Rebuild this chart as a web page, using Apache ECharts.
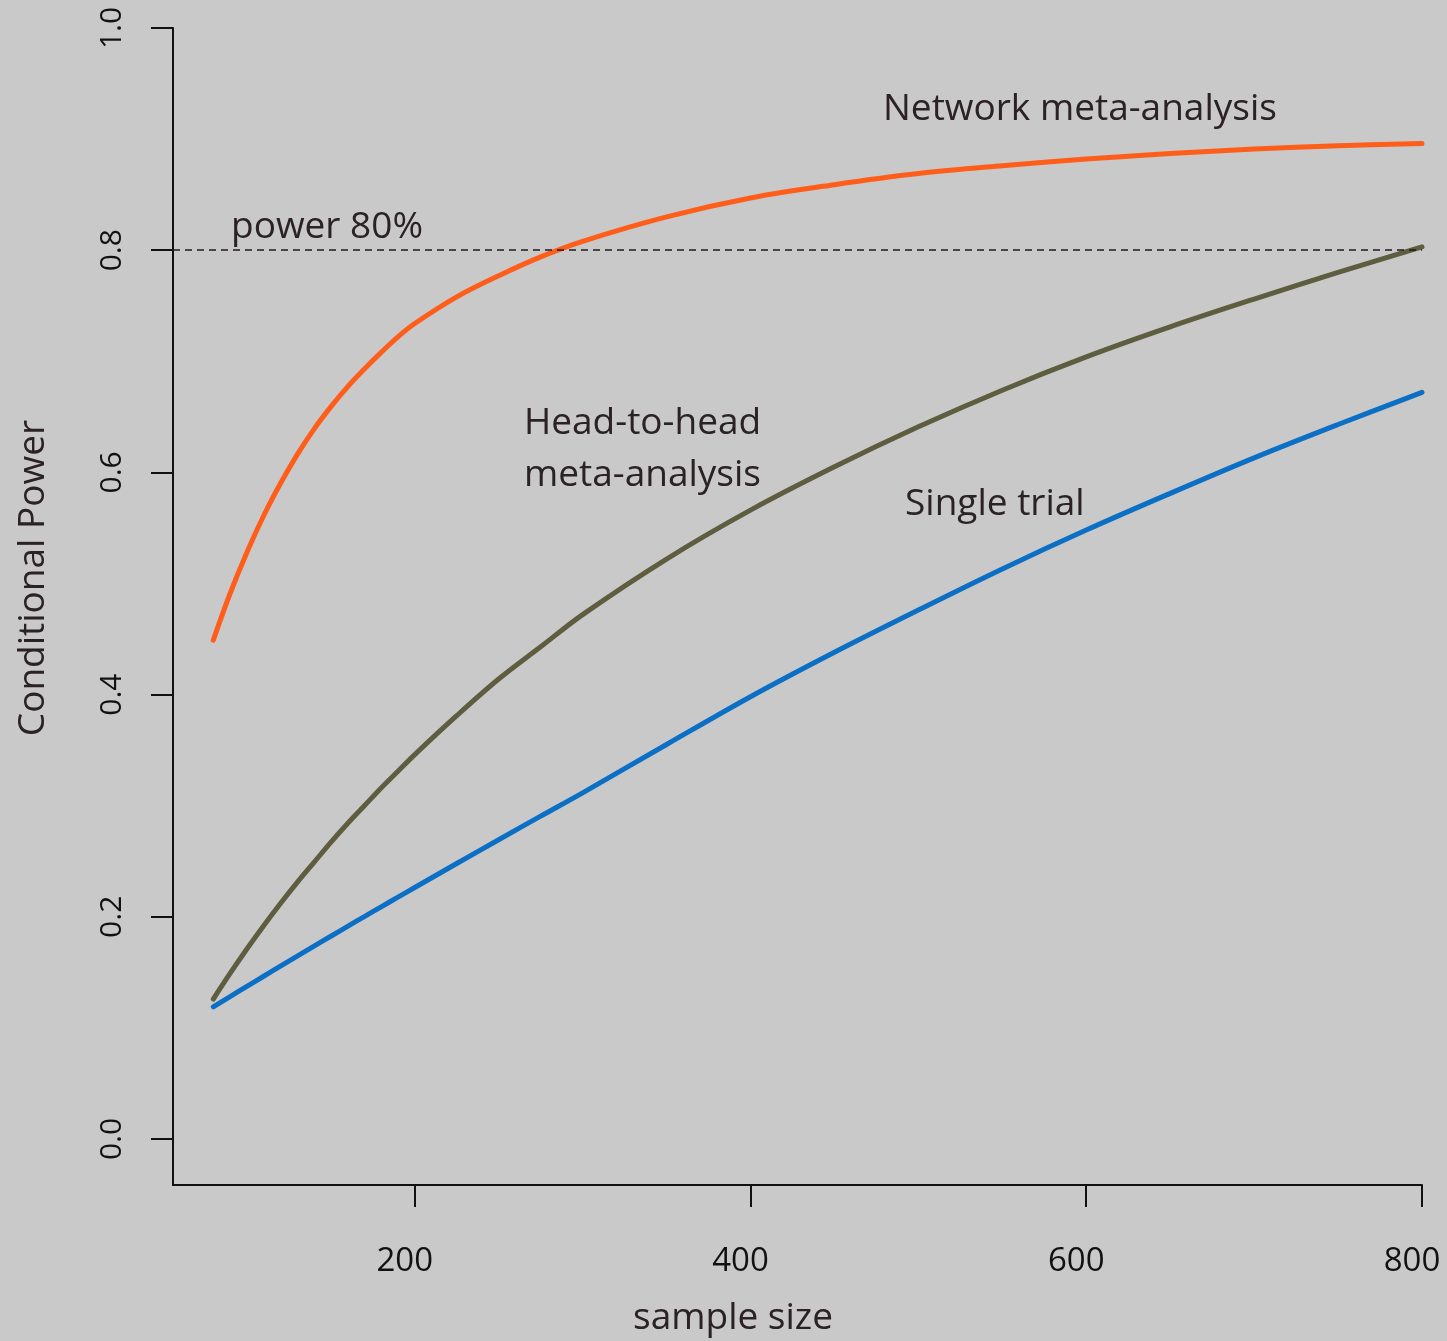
<!DOCTYPE html>
<html>
<head>
<meta charset="utf-8">
<script src="https://cdn.jsdelivr.net/npm/echarts@6/dist/echarts.min.js"></script>
<style>
  html, body { margin: 0; padding: 0; background: #c9c9c9; }
  #chart { width: 1447px; height: 1341px; }
</style>
</head>
<body>
<div id="chart"></div>
<script>
// sample sizes (x) shared by the three curves
var sampleSize = [80, 90, 100, 110, 120, 130, 140, 150, 160, 170, 180, 190, 200, 225, 250, 275, 300, 350, 400, 450, 500, 550, 600, 650, 700, 750, 800];
// conditional power
var networkMA = [0.449, 0.491, 0.528, 0.561, 0.590, 0.616, 0.639, 0.659, 0.677, 0.693, 0.708, 0.722, 0.734, 0.758, 0.777, 0.794, 0.808, 0.830, 0.847, 0.859, 0.869, 0.876, 0.882, 0.887, 0.891, 0.894, 0.896];
var headToHeadMA = [0.126, 0.149, 0.171, 0.192, 0.212, 0.231, 0.249, 0.267, 0.284, 0.300, 0.316, 0.331, 0.346, 0.381, 0.414, 0.443, 0.472, 0.522, 0.566, 0.605, 0.641, 0.674, 0.704, 0.731, 0.756, 0.780, 0.803];
var singleTrial = [0.1190, 0.1282, 0.1374, 0.1465, 0.1556, 0.1646, 0.1736, 0.1825, 0.1914, 0.2002, 0.2090, 0.2177, 0.2264, 0.2480, 0.2694, 0.2906, 0.3116, 0.3551, 0.3981, 0.4381, 0.4761, 0.5131, 0.5481, 0.5811, 0.6131, 0.6431, 0.6721];
var xTicks = [200, 400, 600, 800];
var yTicks = [0, 0.2, 0.4, 0.6, 0.8, 1.0];
var powerTarget = 0.8;

var FONT = '"Open Sans", "DejaVu Sans", sans-serif';
var TEXT = '#2b2226';

function pairs(ys) {
    var out = [];
    for (var i = 0; i < sampleSize.length; i++) out.push([sampleSize[i], ys[i]]);
    return out;
}

function curve(name, ys, color) {
    return {
        name: name,
        type: 'line',
        data: pairs(ys),
        smooth: 0.35,
        showSymbol: false,
        lineStyle: { color: color, width: 5, cap: 'round' },
        z: 3
    };
}

var myChart = echarts.init(document.getElementById('chart'));
var series = [
    curve('Network meta-analysis', networkMA, '#ff5e1a'),
    curve('Head-to-head meta-analysis', headToHeadMA, '#5f5d40'),
    curve('Single trial', singleTrial, '#0b6fc5')
];
// power 80% reference line
series[0].markLine = {
    silent: true,
    symbol: 'none',
    label: { show: false },
    lineStyle: { color: '#221a1d', width: 1.5, type: [7, 5] },
    data: [{ yAxis: powerTarget }]
};

var option = {
    backgroundColor: '#c9c9c9',
    animation: false,
    grid: { left: 173, right: 25, top: 28, bottom: 156 },
    xAxis: {
        type: 'value',
        min: 56,
        max: 800,
        splitLine: { show: false },
        axisLine: { show: true, onZero: false, lineStyle: { color: '#111', width: 2 } },
        axisTick: { show: true, customValues: xTicks, length: 22, lineStyle: { color: '#111', width: 2 } },
        axisLabel: {
            customValues: xTicks, margin: 60, fontSize: 33, color: '#111', fontFamily: FONT,
            padding: [0, 20, 0, 0]
        }
    },
    yAxis: {
        type: 'value',
        min: -0.0414,
        max: 1.0,
        splitLine: { show: false },
        axisLine: { show: true, onZero: false, lineStyle: { color: '#111', width: 2 } },
        axisTick: { show: true, customValues: yTicks, length: 22, lineStyle: { color: '#111', width: 2 } },
        axisLabel: {
            customValues: yTicks,
            rotate: 90,
            margin: 46,
            fontSize: 30,
            color: '#111',
            fontFamily: FONT,
            formatter: function (v) { return v.toFixed(1); }
        }
    },
    graphic: [
        { type: 'text', left: 883, top: 91, style: { text: 'Network meta-analysis', font: '37px ' + FONT, fill: TEXT } },
        { type: 'text', left: 231, top: 209, style: { text: 'power 80%', font: '37px ' + FONT, fill: TEXT } },
        { type: 'text', left: 524, top: 405, style: { text: 'Head-to-head', font: '37px ' + FONT, fill: TEXT } },
        { type: 'text', left: 524, top: 457, style: { text: 'meta-analysis', font: '37px ' + FONT, fill: TEXT } },
        { type: 'text', left: 905, top: 486, style: { text: 'Single trial', font: '37px ' + FONT, fill: TEXT } },
        {
            type: 'text', x: 733, y: 1318,
            style: { text: 'sample size', font: '37px ' + FONT, fill: TEXT, align: 'center', verticalAlign: 'middle' }
        },
        {
            type: 'text', x: 33, y: 578, rotation: Math.PI / 2,
            style: { text: 'Conditional Power', font: '37px ' + FONT, fill: TEXT, align: 'center', verticalAlign: 'middle' }
        }
    ],
    series: series
};
myChart.setOption(option);
window.addEventListener('resize', function () {
    myChart.resize();
});
</script>
</body>
</html>
